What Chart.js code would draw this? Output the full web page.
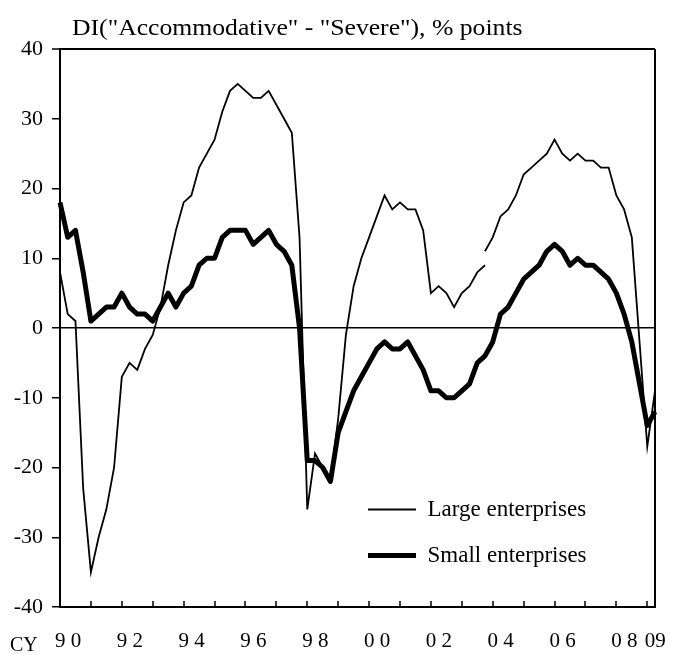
<!DOCTYPE html>
<html>
<head>
<meta charset="utf-8">
<script src="https://cdn.jsdelivr.net/npm/chart.js@4/dist/chart.umd.min.js"></script>
<style>
  html, body { margin: 0; padding: 0; background: #fff; }
  #wrap { width: 675px; height: 655px; }
</style>
</head>
<body>
<div id="wrap"><canvas id="c" width="675" height="655"></canvas></div>
<script>
// Quarterly categories, 1990 Q1 - 2009 Q2
const firstYear = 1990;
const lastYear = 2009;
const lastQuarter = 2;
const quarters = [];
for (let y = firstYear; y <= lastYear; y++) {
  for (let q = 1; q <= 4; q++) {
    if (y === lastYear && q > lastQuarter) break;
    quarters.push(y + 'Q' + q);
  }
}

// Year labels on the x axis and the first-quarter category each one sits on
const tickYears  = [1990, 1992, 1994, 1996, 1998, 2000, 2002, 2004, 2006, 2008, 2009];
const tickLabels = ['9 0', '9 2', '9 4', '9 6', '9 8', '0 0', '0 2', '0 4', '0 6', '0 8', '09'];

// Lending attitude DI, large enterprises: old basis 1990 Q1 - 2003 Q4
const largeOld = [
   8,   2,   1, -23, -35, -30, -26, -20,
  -7,  -5,  -6,  -3,  -1,   3,   9,  14,
  18,  19,  23,  25,  27,  31,  34,  35,
  34,  33,  33,  34,  32,  30,  28,  13,
 -26, -18, -20, -22, -13,  -1,   6,  10,
  13,  16,  19,  17,  18,  17,  17,  14,
   5,   6,   5,   3,   5,   6,   8,   9
];
// Large enterprises: new basis 2003 Q4 - 2009 Q2
const largeNewStart = '2003Q4';
const largeNew = [
  11,  13,  16,  17,  19,  22,  23,  24,
  25,  27,  25,  24,  25,  24,  24,  23,
  23,  19,  17,  13,  -2, -17,  -9
];
// Small enterprises 1990 Q1 - 2009 Q2
const small = [
  18,  13,  14,   8,   1,   2,   3,   3,
   5,   3,   2,   2,   1,   3,   5,   3,
   5,   6,   9,  10,  10,  13,  14,  14,
  14,  12,  13,  14,  12,  11,   9,   0,
 -19, -19, -20, -22, -15, -12,  -9,  -7,
  -5,  -3,  -2,  -3,  -3,  -2,  -4,  -6,
  -9,  -9, -10, -10,  -9,  -8,  -5,  -4,
  -2,   2,   3,   5,   7,   8,   9,  11,
  12,  11,   9,  10,   9,   9,   8,   7,
   5,   2,  -2,  -8, -14, -12
];

const titleText = 'DI("Accommodative" - "Severe"), % points';
const axisCaption = 'CY';
const serif = '"Liberation Serif", "Times New Roman", serif';

const newStartIdx = quarters.indexOf(largeNewStart);
const largeNewSeries = new Array(newStartIdx).fill(null).concat(largeNew);

function xTickText(i) {
  const q = quarters[i];
  if (!q.endsWith('Q1')) return '';
  const k = tickYears.indexOf(Number(q.slice(0, 4)));
  return k >= 0 ? tickLabels[k] : '';
}

// Puts the legend inside the plot, lower right
const legendPlacement = {
  id: 'legendPlacement',
  afterLayout(chart) {
    const lg = chart.legend;
    if (!lg) return;
    lg.left = 345;
    lg.top = 475;
    lg.right = 645;
    lg.bottom = 600;
  }
};

// Heading above the plot and the calendar-year marker by the x labels
const captions = {
  id: 'captions',
  afterDraw(chart) {
    const { ctx, chartArea } = chart;
    ctx.save();
    ctx.fillStyle = '#000';
    ctx.textBaseline = 'alphabetic';
    ctx.textAlign = 'left';
    ctx.save();
    ctx.translate(chartArea.left + 12, chartArea.top - 14);
    ctx.scale(1.07, 1);
    ctx.font = '24px ' + serif;
    ctx.fillText(titleText, 0, 0);
    ctx.restore();
    ctx.font = '20px ' + serif;
    ctx.fillText(axisCaption, 10, 651);
    ctx.restore();
  }
};

const lastIdx = quarters.length - 1;

new Chart(document.getElementById('c'), {
  type: 'line',
  data: {
    labels: quarters,
    datasets: [
      {
        label: 'Large enterprises',
        data: largeOld,
        borderColor: '#000',
        borderWidth: 1.8,
        pointRadius: 0,
        tension: 0,
        fill: false,
        spanGaps: false
      },
      {
        label: 'Large enterprises',
        data: largeNewSeries,
        borderColor: '#000',
        borderWidth: 1.8,
        pointRadius: 0,
        tension: 0,
        fill: false,
        spanGaps: false,
        continuation: true
      },
      {
        label: 'Small enterprises',
        data: small,
        borderColor: '#000',
        borderWidth: 5,
        borderJoinStyle: 'round',
        pointRadius: 0,
        tension: 0,
        fill: false
      }
    ]
  },
  options: {
    responsive: false,
    animation: false,
    devicePixelRatio: 1,
    events: [],
    layout: { padding: { top: 49, right: 20, left: 0, bottom: 0 } },
    plugins: {
      title: { display: false },
      tooltip: { enabled: false },
      legend: {
        position: 'chartArea',
        align: 'start',
        labels: {
          usePointStyle: true,
          pointStyle: 'line',
          pointStyleWidth: 48,
          padding: 23,
          color: '#000',
          font: { family: serif, size: 23 },
          filter: (item, data) => !data.datasets[item.datasetIndex].continuation
        }
      }
    },
    scales: {
      x: {
        type: 'category',
        offset: false,
        border: { display: true, color: '#000', width: 2 },
        grid: {
          drawOnChartArea: true,
          drawTicks: true,
          tickLength: -6,
          color: c => (c.index === lastIdx ? '#000' : 'rgba(0,0,0,0)'),
          lineWidth: 2,
          tickColor: c => (c.index % 4 === 0 ? '#000' : 'rgba(0,0,0,0)'),
          tickWidth: 1.5
        },
        ticks: {
          autoSkip: false,
          maxRotation: 0,
          minRotation: 0,
          padding: 28,
          labelOffset: 8,
          color: '#000',
          font: { family: serif, size: 21 },
          callback: (v, i) => xTickText(i)
        },
        afterFit: s => { s.height = 48; s.paddingLeft = 0; s.paddingRight = 0; }
      },
      y: {
        min: -40,
        max: 40,
        border: { display: true, color: '#000', width: 2 },
        grid: {
          drawOnChartArea: true,
          tickLength: 8,
          color: c => ((c.tick.value === 0 || c.tick.value === 40) ? '#000' : 'rgba(0,0,0,0)'),
          lineWidth: c => (c.tick.value === 40 ? 2 : 1.5),
          tickColor: '#000',
          tickWidth: 1.5
        },
        ticks: {
          stepSize: 10,
          padding: 9,
          color: '#000',
          font: { family: serif, size: 22 }
        },
        afterFit: s => { s.width = 60; }
      }
    }
  },
  plugins: [legendPlacement, captions]
});
</script>
</body>
</html>
